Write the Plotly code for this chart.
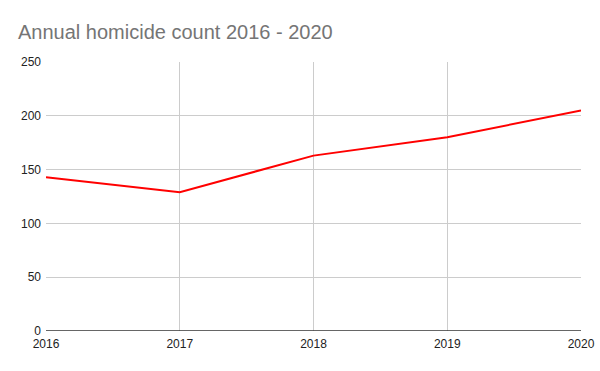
import plotly.graph_objects as go

years = ["2016", "2017", "2018", "2019", "2020"]
homicides = [143, 129, 163, 180, 205]
y_ticks = [0, 50, 100, 150, 200, 250]

fig = go.Figure(go.Scatter(
    x=years, y=homicides, mode="lines",
    line=dict(color="#ff0000", width=2),
))

fig.update_layout(
    width=600, height=371,
    margin=dict(l=46, r=19, t=62, b=40, autoexpand=False),
    paper_bgcolor="white", plot_bgcolor="white",
    font=dict(family="Arial", size=12, color="#222222"),
    title=dict(text="Annual homicide count 2016 - 2020", x=0.03, xanchor="left",
               y=0.915, yanchor="middle",
               font=dict(family="Arial", size=20, color="#757575")),
    showlegend=False,
)
fig.update_xaxes(
    type="category", range=[0, 4], showgrid=True, gridcolor="#cccccc", gridwidth=1,
    showline=False, zeroline=False, ticks="", ticklabelstandoff=4, automargin=False,
    tickfont=dict(size=12, color="#222222"),
)
fig.update_yaxes(
    range=[0, 250], tickvals=y_ticks, showgrid=True, gridcolor="#cccccc", gridwidth=1,
    zeroline=False, showline=False, ticks="", ticklabelstandoff=4, automargin=False,
    tickfont=dict(size=12, color="#222222"),
)
fig.add_hline(y=0, line=dict(color="#333333", width=1.5))

fig.write_html("out.html", config={"displayModeBar": False},
               post_script="document.body.style.margin='0';")
